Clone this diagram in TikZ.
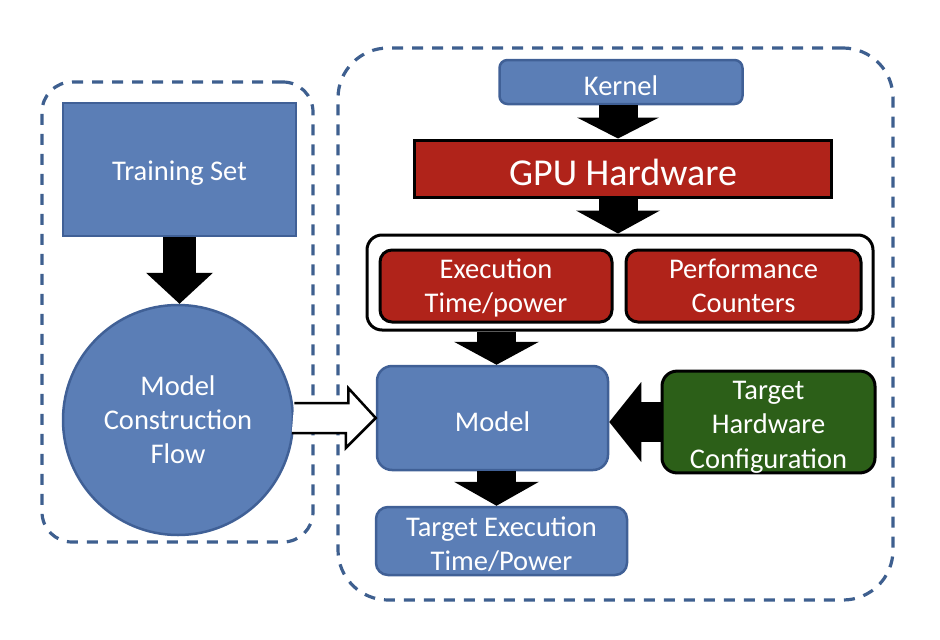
\documentclass[tikz,border=0pt]{standalone}
\usepackage{fontspec}
\setmainfont{Carlito}
\usetikzlibrary{arrows.meta,calc}
\definecolor{bfill}{RGB}{91,126,182}
\definecolor{bline}{RGB}{64,96,150}
\definecolor{rfill}{RGB}{176,35,26}
\definecolor{gfill}{RGB}{44,95,24}
\definecolor{dline}{RGB}{62,95,143}
\newcommand{\tstr}[1][0.92em]{\rule{0pt}{#1}}
\newcommand{\dstr}{\rule[-0.25em]{0pt}{0.25em}}
\begin{document}
\begin{tikzpicture}[x=1pt,y=-1pt,
  txt/.style={text=white,font=\fontsize{28.5}{34}\selectfont,align=center,inner sep=0pt},
  bluebox/.style={txt,draw=bline,line width=2.5pt,fill=bfill},
  redbox/.style={txt,draw=black,line width=3pt,fill=rfill},
  greenbox/.style={txt,draw=black,line width=3pt,fill=gfill,rounded corners=15pt},
  group/.style={draw=dline,line width=3.2pt,dash pattern=on 11pt off 9pt,inner sep=0pt},
  blk/.style n args={3}{line width=#1pt,-{Triangle[length=#2pt,width=#3pt,line width=0pt]},black}]
\useasboundingbox (0,0) rectangle (940,640);
% groups
\node[group,rounded corners=30pt,minimum width=271pt,minimum height=460pt] (lg) at (177.5,312) {};
\node[group,rounded corners=50pt,minimum width=555pt,minimum height=552pt] (rg) at (615.5,324) {};
% left
\node[bluebox,minimum width=233pt,minimum height=133pt] (ts) at (179.5,169.5) {\tstr Training Set};
\node[bluebox,circle,minimum size=230pt] (circ) at (178,420) {Model\\Construction\\Flow};
% right
\node[bluebox,rounded corners=8pt,minimum width=243pt,minimum height=44pt] (kernel) at (621,82) {\tstr Kernel};
\node[redbox,minimum width=417pt,minimum height=57pt,font=\fontsize{38}{44}\selectfont] (gpu) at (623,168.5) {\tstr GPU Hardware};
\node[draw=black,line width=3pt,fill=white,rounded corners=15pt,minimum width=506pt,minimum height=95pt] (cont) at (620,282.5) {};
\node[redbox,rounded corners=12pt,minimum width=232pt,minimum height=72pt] (exec) at (496,286) {\tstr Execution\\Time/power\dstr};
\node[redbox,rounded corners=12pt,minimum width=235pt,minimum height=72pt] (perf) at (743.5,286) {\tstr Performance\\Counters\dstr};
\node[bluebox,rounded corners=15pt,minimum width=231pt,minimum height=104pt] (model) at (492.5,418) {\tstr Model};
\node[bluebox,rounded corners=12pt,minimum width=251pt,minimum height=68pt] (target) at (501.5,541) {\tstr Target Execution\\Time/Power};
\node[greenbox,minimum width=213pt,minimum height=100pt,font=\fontsize{28.5}{34.5}\selectfont] (thw) at (768.5,422) {\tstr[0.98em]Target\\Hardware\\Configuration};
% arrows
\draw[blk={33}{31}{67}] (ts.south) -- (ts.south |- circ.north);
\draw[blk={39}{21}{82}] ([xshift=-3pt]kernel.south) -- ([xshift=-3pt]kernel.south |- gpu.north);
\draw[blk={39}{23}{84}] ([xshift=-5pt]gpu.south) -- ([xshift=-5pt]gpu.south |- cont.north);
\draw[blk={39}{23}{85}] ([xshift=4pt]model.north |- cont.south) -- ([xshift=4pt]model.north);
\draw[blk={39}{24}{85}] ([xshift=4pt]model.south) -- ([xshift=4pt]model.south |- target.north);
\draw[blk={40}{32}{80}] (thw.west) -- (model.east |- thw.west);
\draw[line width=2.5pt,fill=white,line join=miter] (circ.east |- model.west) ++(0,-15) -- ++(54,0) -- ++(0,-15) -- (model.west) -- ++(-30,30) -- ++(0,-15) -- ++(-54,0);
\end{tikzpicture}
\end{document}
